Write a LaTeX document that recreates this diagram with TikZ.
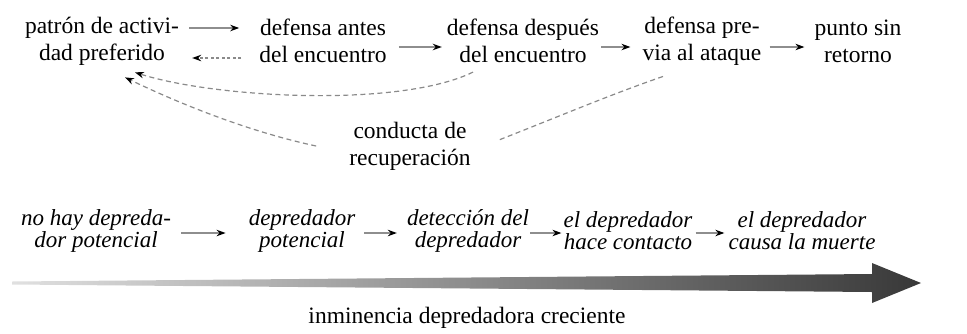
\documentclass[tikz,border=0pt]{standalone}
\usepackage{fontspec}
\setmainfont{Liberation Serif}
\usetikzlibrary{arrows.meta,positioning}
\definecolor{shaftgrey}{HTML}{8E8E8E}
\definecolor{dashgrey}{HTML}{8A8A8A}
\tikzset{
  >=Stealth,
  stage/.style={inner sep=0pt,align=center,font=\fontsize{23.5}{27}\selectfont},
  level/.style={inner sep=0pt,align=center,font=\fontsize{23}{22}\selectfont\itshape},
  blacktip/.style={-{Stealth[length=9pt,width=6.5pt,color=black]}},
  flow/.style={blacktip,line width=1.2pt,draw=shaftgrey},
  back/.style={blacktip,line width=1.2pt,draw=dashgrey,dash pattern=on 3pt off 2.5pt},
  recov/.style={line width=1.2pt,draw=dashgrey,dash pattern=on 5pt off 3.5pt},
}
\begin{document}
\begin{tikzpicture}[x=1pt,y=-1pt]
  \useasboundingbox (0,0) rectangle (967,333);

  % defence stages
  \node[stage] (patron)  at (102,41) {patrón de activi-\\dad preferido};
  \node[stage] (antes)   at (323,41) {defensa antes\\del encuentro};
  \node[stage] (despues) at (523,41) {defensa después\\del encuentro};
  \node[stage] (previa)  at (702,41) {defensa pre-\\via al ataque};
  \node[stage] (punto)   at (858,41) {punto sin\\retorno};
  \node[stage] (conducta) at (410,146) {conducta de\\recuperación};

  \draw[flow] ([yshift=13pt]patron.east) -- ([yshift=13pt]antes.west)
    [shorten <=10pt,shorten >=20pt];
  \draw[back] ([yshift=-17pt]antes.west) -- ([yshift=-17pt]patron.east)
    [shorten <=18pt,shorten >=13pt];
  \draw[flow,shorten <=12pt,shorten >=5pt] ([yshift=-6pt]antes.east) -- ([yshift=-6pt]despues.west);
  \draw[flow,shorten <=2pt,shorten >=12pt] ([yshift=-6pt]despues.east) -- ([yshift=-6pt]previa.west);
  \draw[flow,shorten <=8pt,shorten >=10pt] ([yshift=-6pt]previa.east) -- ([yshift=-6pt]punto.west);

  % recovery paths
  \draw[recov,blacktip] ([xshift=-50pt,yshift=-9pt]despues.south)
    .. controls (400,108) and (215,98) .. ([xshift=33pt,yshift=-7pt]patron.south);
  \draw[recov] ([xshift=-39pt,yshift=-11pt]previa.south)
    .. controls (612,94) and (560,116) .. ([xshift=28pt,yshift=6pt]conducta.east);
  \draw[recov,blacktip] ([xshift=-33pt]conducta.west)
    .. controls (250,132) and (180,104) .. ([xshift=23pt,yshift=-12pt]patron.south);

  % predator levels
  \node[level] (nohay)     at (96,231)  {no hay depreda-\\dor potencial};
  \node[level] (potencial) at (302,231) {depredador\\potencial};
  \node[level] (deteccion) at (468,231) {detección del\\depredador};
  \node[level] (contacto)  at (628,231) {el depredador\\hace contacto};
  \node[level] (muerte)    at (802,231) {el depredador\\causa la muerte};

  \draw[flow,shorten <=10pt,shorten >=23pt] ([yshift=-2pt]nohay.east) -- ([yshift=-2pt]potencial.west);
  \draw[flow,shorten <=9pt,shorten >=10pt] ([yshift=-2pt]potencial.east) -- ([yshift=-2pt]deteccion.west);
  \draw[flow,shorten <=1pt,shorten >=2pt] ([yshift=-2pt]deteccion.east) -- ([yshift=-2pt]contacto.west);
  \draw[flow,shorten <=3pt,shorten >=4pt] ([yshift=-2pt]contacto.east) -- ([yshift=-2pt]muerte.west);

  % imminence axis
  \shade[left color=black!12,right color=black!78]
    (12,281.5) -- (872,274) -- (872,263) -- (921,283) -- (872,303)
    -- (872,292) -- (12,284.5) -- cycle;
  \node[stage] (eje) at (467,318) {inminencia depredadora creciente};
\end{tikzpicture}
\end{document}
